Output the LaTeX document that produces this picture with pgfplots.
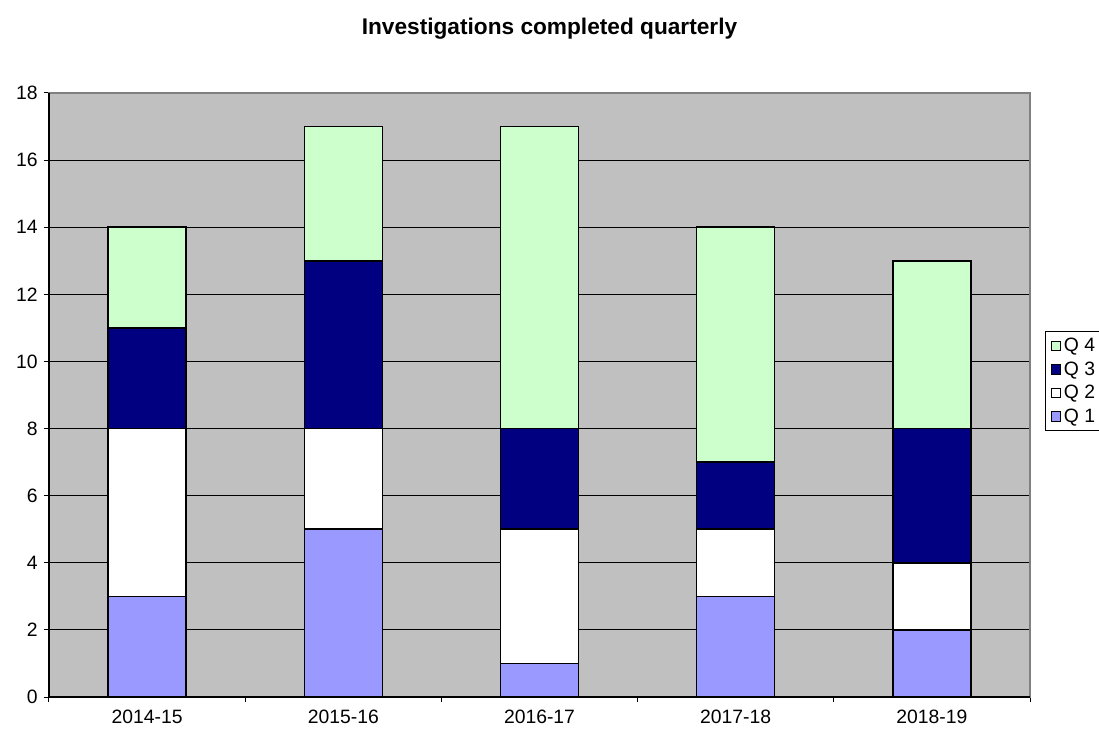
\documentclass[border=0pt]{standalone}
\usepackage{fontspec}
\setmainfont{Liberation Sans}
\usepackage{pgfplots}
\pgfplotsset{compat=1.18}
\definecolor{qone}{HTML}{9999FF}
\definecolor{qtwo}{HTML}{FFFFFF}
\definecolor{qthree}{HTML}{000080}
\definecolor{qfour}{HTML}{CCFFCC}
\definecolor{plotbg}{HTML}{C0C0C0}
\begin{document}
\begin{tikzpicture}
\begin{axis}[
  scale only axis,
  width=735.75pt, height=453pt,
  ybar stacked,
  bar width=58.5pt,
  xmin=-0.5, xmax=4.5,
  ymin=0, ymax=18,
  ytick={0,2,...,18},
  xtick={0,1,2,3,4},
  xticklabels={2014-15,2015-16,2016-17,2017-18,2018-19},
  minor xtick={-0.5,0.5,1.5,2.5,3.5,4.5},
  xtick pos=bottom, ytick pos=left,
  xtick style={draw=none},
  minor x tick style={draw=black, line width=0.75pt},
  y tick style={draw=black, line width=0.75pt},
  tick align=outside,
  major tick length=4pt,
  minor tick length=4pt,
  ymajorgrids,
  major grid style={black, line width=0.75pt},
  axis background/.style={fill=plotbg},
  axis line style={draw=gray, line width=1.2pt},
  ticklabel style={font=\fontsize{14.5}{17}\selectfont},
  xticklabel style={yshift=-2pt},
  yticklabel style={xshift=-1pt},
  /pgf/number format/assume math mode=true,
  clip=false,
  legend style={at={(rel axis cs:1.0153,0.606)}, anchor=north west,
    draw=black, line width=0.75pt, fill=white,
    font=\fontsize{14.5}{17}\selectfont,
    row sep=2pt, inner xsep=4pt, inner ysep=3pt,
    legend cell align=left},
  reverse legend,
  legend image code/.code={\draw[#1, draw=black, line width=0.75pt] (0pt,-3.5pt) rectangle (7pt,3.5pt);},
  every axis plot/.append style={draw=black, line width=1.1pt},
]
\addplot[fill=qone] coordinates {(0,3) (1,5) (2,1) (3,3) (4,2)};
\addplot[fill=qtwo] coordinates {(0,5) (1,3) (2,4) (3,2) (4,2)};
\addplot[fill=qthree] coordinates {(0,3) (1,5) (2,3) (3,2) (4,4)};
\addplot[fill=qfour] coordinates {(0,3) (1,4) (2,9) (3,7) (4,5)};
\legend{Q 1,Q 2,Q 3,Q 4}
\draw[black, line width=0.9pt] (rel axis cs:0,1) -- (rel axis cs:0,0) -- (rel axis cs:1,0);
\node[font=\bfseries\fontsize{17}{20}\selectfont] at (rel axis cs:0.5102,1.107) {Investigations completed quarterly};
\end{axis}
\pgfresetboundingbox
\path[use as bounding box] (current axis.south west) ++(-36.75pt,-24pt) rectangle ++(824.25pt,546.75pt);
\end{tikzpicture}
\end{document}
